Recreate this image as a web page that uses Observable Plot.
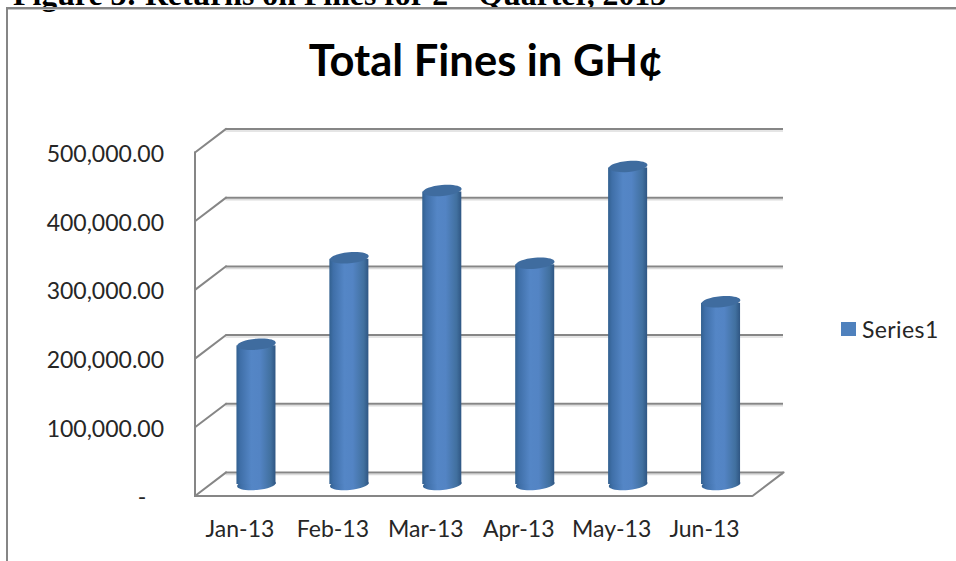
<!DOCTYPE html>
<html>
<head>
<meta charset="utf-8">
<script src="https://cdn.jsdelivr.net/npm/d3@7"></script>
<script src="https://cdn.jsdelivr.net/npm/@observablehq/plot@0.6"></script>
<style>
  html, body { margin: 0; padding: 0; background: #fff; overflow: hidden; width: 956px; height: 561px; }
  #page { position: relative; width: 956px; height: 561px; overflow: hidden; }
  #caption { position: absolute; left: 13px; top: -25px; font: bold 31.8px "Liberation Serif", serif; color: #000; white-space: nowrap; }
  #caption sup { font-size: 20px; }
  #box { position: absolute; left: 6px; top: 7px; width: 960px; height: 600px; border: 2px solid #868686; box-shadow: inset 0 1px #c8c8c8; }
  #title { position: absolute; left: 0; width: 972px; top: 33px; text-align: center; font: bold 43.5px Lato, sans-serif; color: #000; white-space: nowrap; }
  #legend { position: absolute; left: 841px; top: 315px; display: flex; align-items: center; font: 23px Lato, sans-serif; color: #262626; letter-spacing: .4px; }
  #legend i { display: block; width: 15px; height: 14px; background: #4f81bd; margin-right: 6px; }
  #chart { position: absolute; left: 0; top: 0; }
  #chart svg { background: transparent; }
</style>
</head>
<body>
<div id="page">
  <div id="caption">Figure 3: Returns on Fines for 2<sup>nd</sup> Quarter, 2013</div>
  <div id="box"></div>
  <div id="chart"></div>
  <div id="title">Total Fines in GH¢</div>
  <div id="legend"><i></i><span>Series1</span></div>
</div>
<script>
const months = ["Jan-13", "Feb-13", "Mar-13", "Apr-13", "May-13", "Jun-13"];
const totals = [204000, 330000, 428000, 322000, 463000, 266000];
const yTicks = [0, 100000, 200000, 300000, 400000, 500000];

const rows = months.map((month, i) => ({month, total: totals[i]}));
const gridColor = "#868686";
const wall = {dx: 31, dy: -23.5};
const barShift = {dx: 15, dy: -11.5};
const diagonal = {draw(c, l) { c.moveTo(0, 0); c.lineTo(0, -l); }};
const tiltedEllipse = {
  draw(c) {
    const rx = 19.4, ry = 5.5, t = -5 * Math.PI / 180, k = 0.5523;
    const p = (x, y) => [x * Math.cos(t) - y * Math.sin(t), x * Math.sin(t) + y * Math.cos(t)];
    c.moveTo(...p(rx, 0));
    c.bezierCurveTo(...p(rx, k * ry), ...p(k * rx, ry), ...p(0, ry));
    c.bezierCurveTo(...p(-k * rx, ry), ...p(-rx, k * ry), ...p(-rx, 0));
    c.bezierCurveTo(...p(-rx, -k * ry), ...p(-k * rx, -ry), ...p(0, -ry));
    c.bezierCurveTo(...p(k * rx, -ry), ...p(rx, -k * ry), ...p(rx, 0));
    c.closePath();
  }
};
const defs = () => {
  const svg = document.createElementNS("http://www.w3.org/2000/svg", "defs");
  svg.innerHTML = `<linearGradient id="cyl" x1="0" x2="1" y1="0" y2="0">
    <stop offset="0" stop-color="#32608f"/>
    <stop offset="0.1" stop-color="#3f6fa8"/>
    <stop offset="0.38" stop-color="#5486c6"/>
    <stop offset="0.6" stop-color="#5384c4"/>
    <stop offset="0.88" stop-color="#41709f"/>
    <stop offset="1" stop-color="#2f5683"/>
  </linearGradient>`;
  return svg;
};

const chart = Plot.plot({
  width: 956,
  height: 561,
  marginLeft: 194.5,
  marginRight: 204,
  marginTop: 152,
  marginBottom: 65.5,
  style: {fontFamily: "Lato, sans-serif", background: "transparent"},
  x: {domain: months, paddingInner: 0.58, paddingOuter: 0.29, round: false, label: null},
  y: {domain: [0, 500000], label: null},
  marks: [
    defs,
    // shadow under the back-wall gridlines
    Plot.ruleY(yTicks, {dx: wall.dx, dy: wall.dy + 2, stroke: "#dcdcdc", strokeWidth: 1.5}),
    Plot.ruleY(yTicks, {dx: wall.dx, dy: wall.dy, stroke: gridColor, strokeWidth: 2}),
    Plot.vector(yTicks, {y: d => d, frameAnchor: "left", length: 39, rotate: 52.8, anchor: "start", shape: diagonal, stroke: gridColor, strokeWidth: 2}),
    Plot.vector([0], {y: d => d, frameAnchor: "right", length: 39, rotate: 52.8, anchor: "start", shape: diagonal, stroke: gridColor, strokeWidth: 2}),
    Plot.frame({anchor: "left", stroke: gridColor, strokeWidth: 2}),
    Plot.ruleY([0], {stroke: gridColor, strokeWidth: 2}),
    Plot.dot(rows, {x: "month", y: () => 0, symbol: tiltedEllipse, r: 10, fill: "url(#cyl)", ...barShift}),
    Plot.barY(rows, {x: "month", y: "total", fill: "url(#cyl)", insetTop: 1.5, ...barShift}),
    Plot.dot(rows, {x: "month", y: "total", symbol: tiltedEllipse, r: 10, fill: "#3f6c9f", ...barShift}),
    Plot.axisY(yTicks, {
      ticks: yTicks,
      tickSize: 0,
      tickPadding: 31,
      fontSize: 23,
      fill: "#262626",
      label: null,
      tickFormat: d => d === 0 ? "-\u00a0\u00a0\u00a0" : d3.format(",.2f")(d),
      style: {letterSpacing: "2.3px"},
      dy: 2
    }),
    Plot.axisX({
      tickSize: 0,
      tickPadding: 25,
      fontSize: 23,
      fill: "#262626",
      label: null,
      style: {letterSpacing: "0.6px"},
      dx: -1.5
    })
  ]
});
document.getElementById("chart").append(chart);
</script>
</body>
</html>
